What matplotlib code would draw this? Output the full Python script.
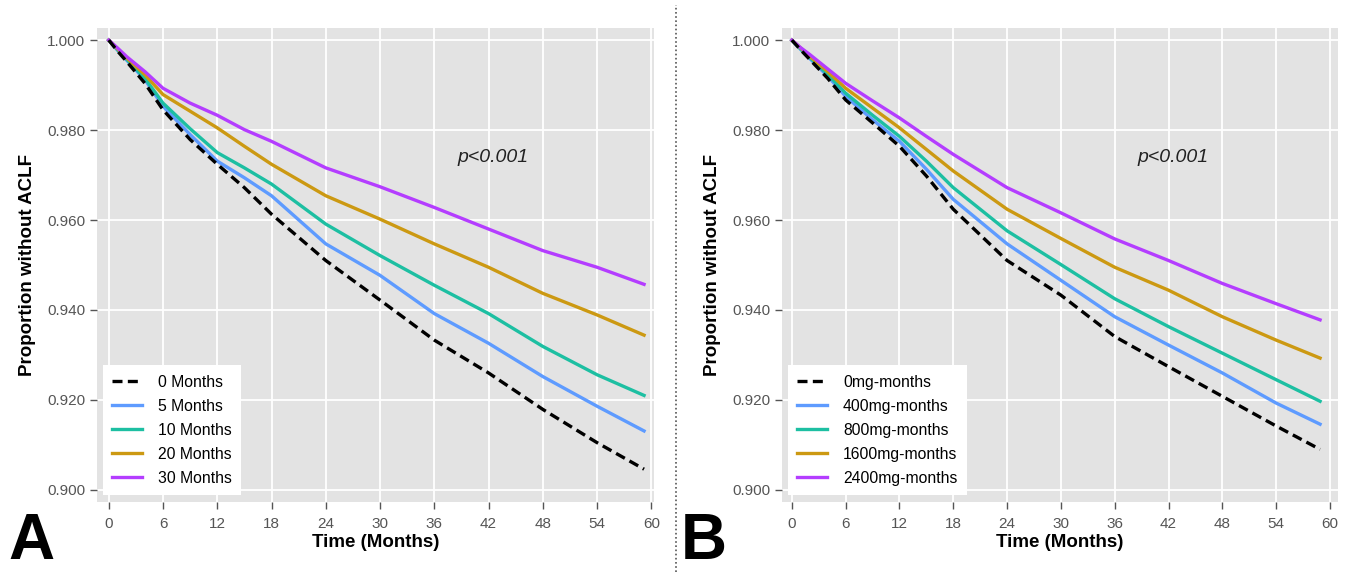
import matplotlib.pyplot as plt
from matplotlib.lines import Line2D

plt.rcParams['font.family'] = ['Liberation Sans', 'DejaVu Sans']

months = [0, 1, 2, 4, 6, 9, 12, 15, 18, 24, 30, 36, 42, 48, 54, 59.2]
months_b = [0, 1, 2, 4, 6, 9, 12, 15, 18, 24, 30, 36, 42, 48, 54, 58.9]

# panel A: duration of exposure
labels_a = ["0 Months", "5 Months", "10 Months", "20 Months", "30 Months"]
a_0 = [1.0, 0.9975, 0.9952, 0.9904, 0.9845, 0.9779, 0.9724, 0.9672, 0.9613, 0.9510, 0.9422, 0.9333, 0.9260, 0.9179, 0.9105, 0.9046]
a_5 = [1.0, 0.9977, 0.9955, 0.9912, 0.9853, 0.9790, 0.9731, 0.9694, 0.9654, 0.9547, 0.9477, 0.9392, 0.9326, 0.9252, 0.9186, 0.9131]
a_10 = [1.0, 0.9978, 0.9957, 0.9915, 0.9860, 0.9803, 0.9750, 0.9716, 0.9680, 0.9591, 0.9521, 0.9455, 0.9392, 0.9319, 0.9256, 0.9210]
a_20 = [1.0, 0.9980, 0.9960, 0.9923, 0.9879, 0.9842, 0.9805, 0.9764, 0.9724, 0.9654, 0.9602, 0.9547, 0.9495, 0.9437, 0.9389, 0.9344]
a_30 = [1.0, 0.9982, 0.9963, 0.9930, 0.9893, 0.9860, 0.9833, 0.9801, 0.9775, 0.9716, 0.9674, 0.9628, 0.9580, 0.9532, 0.9495, 0.9457]

# panel B: cumulative dose
labels_b = ["0mg-months", "400mg-months", "800mg-months", "1600mg-months", "2400mg-months"]
b_0 = [1.0, 0.9978, 0.9957, 0.9915, 0.9867, 0.9816, 0.9764, 0.9698, 0.9624, 0.9510, 0.9433, 0.9341, 0.9274, 0.9208, 0.9142, 0.9090]
b_400 = [1.0, 0.9979, 0.9959, 0.9920, 0.9875, 0.9823, 0.9775, 0.9713, 0.9646, 0.9547, 0.9466, 0.9385, 0.9322, 0.9260, 0.9193, 0.9146]
b_800 = [1.0, 0.9980, 0.9961, 0.9924, 0.9882, 0.9833, 0.9786, 0.9731, 0.9672, 0.9576, 0.9501, 0.9425, 0.9363, 0.9304, 0.9245, 0.9197]
b_1600 = [1.0, 0.9982, 0.9964, 0.9930, 0.9893, 0.9849, 0.9805, 0.9757, 0.9709, 0.9624, 0.9559, 0.9495, 0.9444, 0.9385, 0.9333, 0.9293]
b_2400 = [1.0, 0.9983, 0.9968, 0.9936, 0.9904, 0.9865, 0.9827, 0.9786, 0.9746, 0.9672, 0.9616, 0.9558, 0.9510, 0.9459, 0.9414, 0.9378]

colors = ["black", "#5E9BFF", "#1DBFA2", "#CC9912", "#B43DFF"]
xticks = [0, 6, 12, 18, 24, 30, 36, 42, 48, 54, 60]
yticks = [0.90, 0.92, 0.94, 0.96, 0.98, 1.00]

fig = plt.figure(figsize=(13.5, 5.72), dpi=100)
ax_a = fig.add_axes([97 / 1350, 70 / 572, 557 / 1350, 474 / 572])
ax_b = fig.add_axes([782 / 1350, 70 / 572, 556 / 1350, 474 / 572])


def draw_panel(ax, x, series, labels, xlim):
    for i, (y, lab) in enumerate(zip(series, labels)):
        if i == 0:
            ax.plot(x, y, color=colors[i], lw=2.4, ls=(0, (3.0, 1.6)), label=lab, zorder=3)
        else:
            ax.plot(x, y, color=colors[i], lw=2.4, label=lab, zorder=2)
    ax.set_facecolor("#E3E3E3")
    ax.grid(True, color="white", lw=1.3)
    ax.set_axisbelow(True)
    for s in ax.spines.values():
        s.set_visible(False)
    ax.set_xlim(*xlim)
    ax.set_ylim(0.8973, 1.0027)
    ax.set_xticks(xticks)
    ax.set_yticks(yticks)
    ax.set_yticklabels([f"{v:.3f}" for v in yticks])
    ax.tick_params(colors="#555555", labelcolor="#555555", labelsize=11, length=5, width=1)
    ax.tick_params(axis="x", pad=6)
    ax.set_xlabel("Time (Months)", fontsize=13.5, fontweight="bold", labelpad=2)
    ax.set_ylabel("Proportion without ACLF", fontsize=13.5, fontweight="bold", labelpad=8)
    ax.text(42.5, 0.9740, "p<0.001", fontsize=14, style="italic", ha="center", va="center", color="#222222")
    leg = ax.legend(loc="lower left", bbox_to_anchor=(6 / 557, 7 / 474), borderaxespad=0,
                    fontsize=11.3, handlelength=1.9, labelspacing=0.57, handletextpad=1.0,
                    fancybox=False, framealpha=1, borderpad=0.6)
    leg.get_frame().set_facecolor("white")
    leg.get_frame().set_edgecolor("none")


draw_panel(ax_a, months, [a_0, a_5, a_10, a_20, a_30], labels_a, (-1.3, 60.3))
draw_panel(ax_b, months_b, [b_0, b_400, b_800, b_1600, b_2400], labels_b, (-1.1, 60.9))

fig.text(8 / 1350, 0.0, "A", fontsize=46, fontweight="bold", va="bottom")
fig.text(681 / 1350, 0.0, "B", fontsize=46, fontweight="bold", va="bottom")
fig.add_artist(Line2D([676 / 1350, 676 / 1350], [0, 567 / 572], color="#555555", lw=1.2, ls=(0, (1, 1.5))))

plt.savefig("out.png", dpi=100)
